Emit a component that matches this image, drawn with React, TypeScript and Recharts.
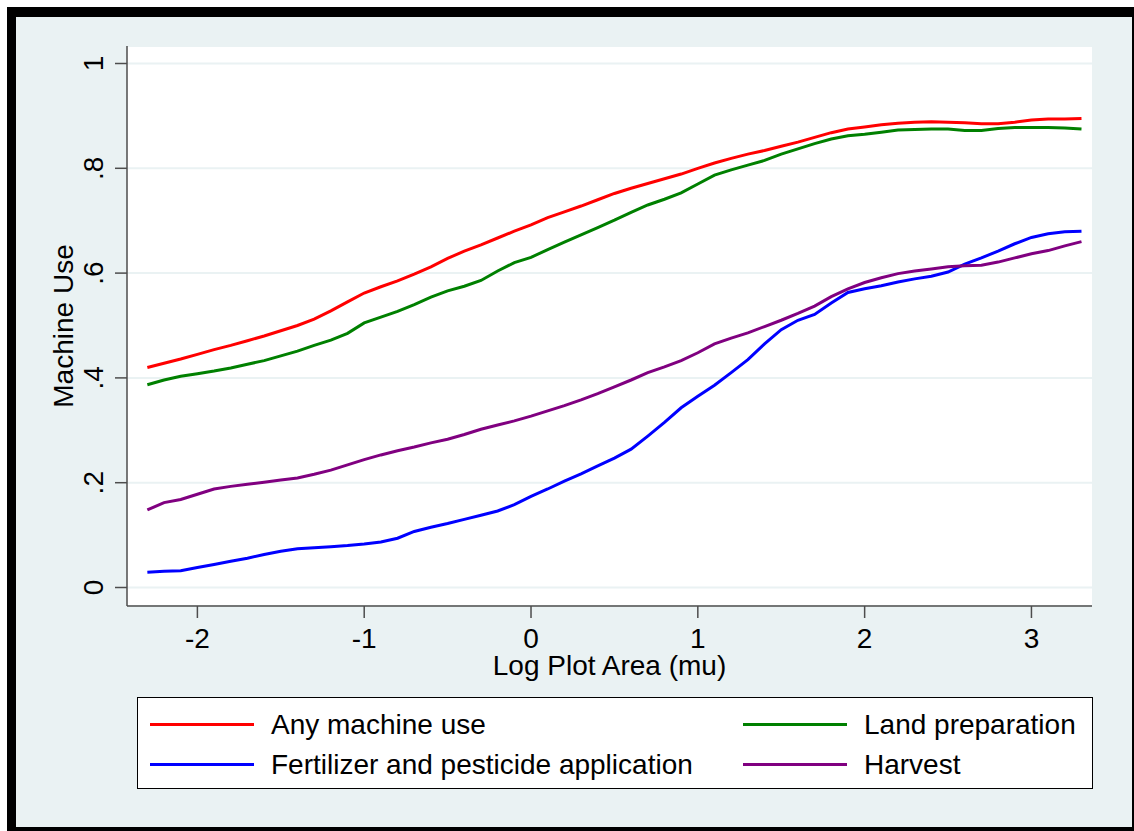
import { LineChart, Line, XAxis, YAxis, CartesianGrid, Label } from "recharts";

// log plot area (mu)
const logArea = [
  -2.3, -2.2, -2.1, -2.0, -1.9, -1.8, -1.7, -1.6, -1.5, -1.4, -1.3, -1.2, -1.1, -1.0, -0.9, -0.8, -0.7, -0.6, -0.5,
  -0.4, -0.3, -0.2, -0.1, 0.0, 0.1, 0.2, 0.3, 0.4, 0.5, 0.6, 0.7, 0.8, 0.9, 1.0, 1.1, 1.2, 1.3, 1.4, 1.5, 1.6, 1.7,
  1.8, 1.9, 2.0, 2.1, 2.2, 2.3, 2.4, 2.5, 2.6, 2.7, 2.8, 2.9, 3.0, 3.1, 3.2, 3.3,
];

const anyMachine = [
  0.42, 0.428, 0.436, 0.445, 0.454, 0.462, 0.471, 0.48, 0.49, 0.5, 0.512, 0.528, 0.545, 0.562, 0.574, 0.585, 0.598,
  0.612, 0.628, 0.642, 0.654, 0.667, 0.68, 0.692, 0.706, 0.717, 0.728, 0.74, 0.752, 0.762, 0.771, 0.78, 0.789, 0.8,
  0.81, 0.819, 0.827, 0.834, 0.842, 0.85, 0.859, 0.868, 0.875, 0.879, 0.883, 0.886, 0.888, 0.889, 0.888, 0.887,
  0.885, 0.885, 0.888, 0.892, 0.894, 0.894, 0.895,
];

const landPrep = [
  0.387, 0.396, 0.403, 0.408, 0.413, 0.419, 0.426, 0.433, 0.442, 0.451, 0.462, 0.472, 0.485, 0.505, 0.516, 0.527,
  0.54, 0.554, 0.566, 0.575, 0.586, 0.604, 0.62, 0.63, 0.645, 0.659, 0.673, 0.687, 0.701, 0.716, 0.73, 0.741, 0.753,
  0.77, 0.787, 0.797, 0.806, 0.815, 0.827, 0.837, 0.847, 0.856, 0.862, 0.865, 0.869, 0.873, 0.874, 0.875, 0.875,
  0.872, 0.872, 0.876, 0.878, 0.878, 0.878, 0.877, 0.875,
];

const fertPest = [
  0.029, 0.031, 0.032, 0.038, 0.044, 0.05, 0.056, 0.063, 0.069, 0.074, 0.076, 0.078, 0.08, 0.083, 0.087, 0.094, 0.107,
  0.115, 0.122, 0.13, 0.138, 0.146, 0.158, 0.174, 0.188, 0.203, 0.217, 0.232, 0.247, 0.264, 0.289, 0.315, 0.343,
  0.365, 0.386, 0.41, 0.435, 0.465, 0.492, 0.51, 0.521, 0.543, 0.563, 0.57, 0.576, 0.583, 0.589, 0.594, 0.602,
  0.617, 0.629, 0.642, 0.656, 0.668, 0.675, 0.679, 0.68,
];

const harvest = [
  0.148, 0.162, 0.168, 0.178, 0.188, 0.193, 0.197, 0.201, 0.205, 0.209, 0.216, 0.224, 0.234, 0.244, 0.253, 0.261,
  0.268, 0.276, 0.283, 0.292, 0.302, 0.31, 0.318, 0.327, 0.337, 0.347, 0.358, 0.37, 0.383, 0.396, 0.41, 0.421, 0.433,
  0.448, 0.465, 0.476, 0.486, 0.498, 0.51, 0.523, 0.537, 0.555, 0.57, 0.582, 0.591, 0.599, 0.604, 0.608, 0.612,
  0.614, 0.615, 0.621, 0.629, 0.637, 0.643, 0.652, 0.66,
];

const xTicks = [-2, -1, 0, 1, 2, 3];
const yTicks = [0, 0.2, 0.4, 0.6, 0.8, 1];
const yTickLabels = ["0", ".2", ".4", ".6", ".8", "1"];

const series = [
  { key: "any", name: "Any machine use", color: "#FF0000", values: anyMachine },
  { key: "land", name: "Land preparation", color: "#008000", values: landPrep },
  { key: "fert", name: "Fertilizer and pesticide application", color: "#0000FF", values: fertPest },
  { key: "harvest", name: "Harvest", color: "#800080", values: harvest },
];

const data = logArea.map((x, i) => {
  const row: any = { x };
  series.forEach((s) => (row[s.key] = s.values[i]));
  return row;
});

const FONT = "'Liberation Sans', Arial, Helvetica, sans-serif";
const FS = 28;
const BG = "#EAF2F3";
const AXIS = "#4D4D4D";

function XTick({ x, y, payload }: any) {
  return (
    <text x={x} y={y} dy={28} textAnchor="middle" fontFamily={FONT} fontSize={FS} fill="#000">
      {String(payload.value)}
    </text>
  );
}

function YTick({ x, y, payload }: any) {
  const i = yTicks.indexOf(payload.value);
  const bx = x - 10;
  return (
    <text
      x={bx}
      y={y}
      textAnchor="middle"
      transform={`rotate(-90 ${bx} ${y})`}
      fontFamily={FONT}
      fontSize={FS}
      fill="#000"
    >
      {yTickLabels[i] ?? String(payload.value)}
    </text>
  );
}

function XTitle({ viewBox }: any) {
  const cx = viewBox.x + viewBox.width / 2;
  return (
    <text x={cx} y={viewBox.y + 69} textAnchor="middle" fontFamily={FONT} fontSize={FS} fill="#000">
      Log Plot Area (mu)
    </text>
  );
}

function YTitle({ viewBox }: any) {
  const bx = viewBox.x + 73;
  const cy = viewBox.y + viewBox.height / 2;
  return (
    <text
      x={bx}
      y={cy}
      textAnchor="middle"
      transform={`rotate(-90 ${bx} ${cy})`}
      fontFamily={FONT}
      fontSize={FS}
      fill="#000"
    >
      Machine Use
    </text>
  );
}

function ChartLegend() {
  const cols = [12, 605];
  const rows = [27, 67];
  return (
    <div
      style={{
        position: "absolute",
        left: 137,
        top: 697,
        width: 954,
        height: 90,
        border: "1px solid #000",
        background: "#fff",
        fontFamily: FONT,
        fontSize: FS,
        lineHeight: `${FS}px`,
      }}
    >
      {series.map((s, i) => {
        const left = cols[i % 2];
        const top = rows[Math.floor(i / 2)];
        return (
          <div key={s.key}>
            <div
              style={{ position: "absolute", left, top: top - 2, width: 104, height: 3, background: s.color }}
            />
            <div style={{ position: "absolute", left: left + 121, top: top - 14, whiteSpace: "nowrap", color: "#000" }}>
              {s.name}
            </div>
          </div>
        );
      })}
    </div>
  );
}

export default function App() {
  return (
    <div
      style={{
        position: "absolute",
        left: 0,
        top: 0,
        width: 1134,
        height: 831,
        overflow: "hidden",
        background: "#fff",
      }}
    >
      <div style={{ position: "absolute", left: 7, top: 7, width: 1140, height: 840, background: "#000" }} />
      <div style={{ position: "absolute", left: 16, top: 17, width: 1116, height: 810, background: BG }} />
      <div style={{ position: "absolute", left: 0, top: 0 }}>
        <LineChart width={1134} height={831} data={data} margin={{ top: 46, right: 42, bottom: 165, left: 0 }}>
          <CartesianGrid horizontal vertical={false} stroke={BG} strokeWidth={2} fill="#fff" />
          <XAxis
            dataKey="x"
            type="number"
            domain={[-2.422, 3.363]}
            ticks={xTicks}
            allowDataOverflow
            height={60}
            tickSize={12}
            tick={<XTick />}
            axisLine={{ stroke: AXIS, strokeWidth: 1.5 }}
            tickLine={{ stroke: AXIS, strokeWidth: 1.5 }}
          >
            <Label content={<XTitle />} />
          </XAxis>
          <YAxis
            type="number"
            domain={[-0.0353, 1.0334]}
            ticks={yTicks}
            allowDataOverflow
            width={127}
            tickSize={12}
            tick={<YTick />}
            axisLine={{ stroke: AXIS, strokeWidth: 1.5 }}
            tickLine={{ stroke: AXIS, strokeWidth: 1.5 }}
          >
            <Label content={<YTitle />} />
          </YAxis>
          {series.map((s) => (
            <Line
              key={s.key}
              type="linear"
              dataKey={s.key}
              name={s.name}
              stroke={s.color}
              strokeWidth={3}
              dot={false}
              activeDot={false}
              isAnimationActive={false}
            />
          ))}
        </LineChart>
      </div>
      <ChartLegend />
    </div>
  );
}
